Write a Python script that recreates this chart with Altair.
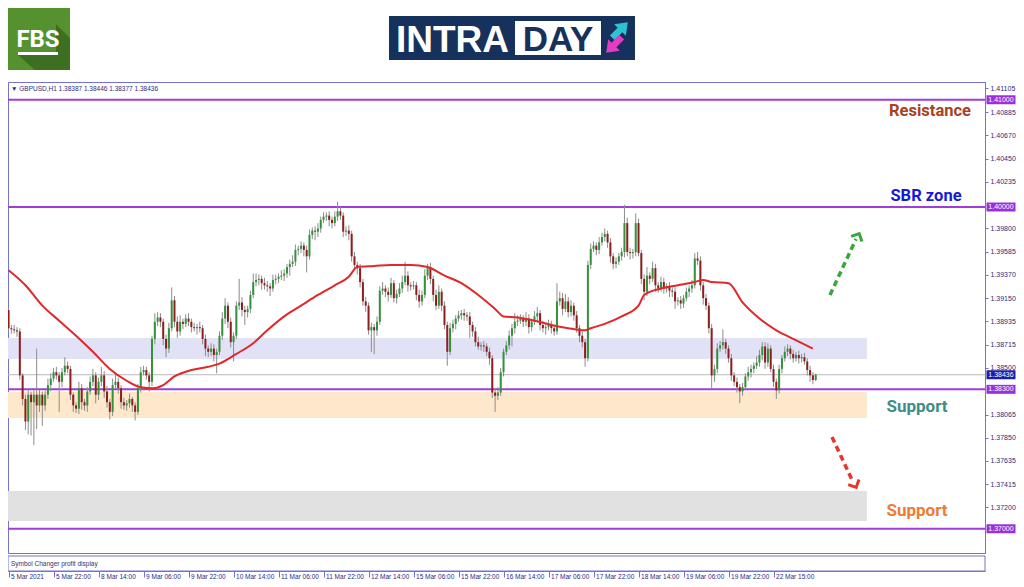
import altair as alt
import pandas as pd

# ---------------- data ----------------
first_open = 1.3904
closes = [
    1.3887, 1.3886, 1.3885, 1.3884, 1.3843, 1.3821, 1.3800, 1.3825, 1.3818, 1.3825, 1.3815, 1.3825, 1.3815, 1.3825, 1.3834, 1.3840,
    1.3846, 1.3843, 1.3837, 1.3846, 1.3852, 1.3849, 1.3825, 1.3815, 1.3812, 1.3831, 1.3818, 1.3815, 1.3828, 1.3837, 1.3843, 1.3825,
    1.3837, 1.3843, 1.3828, 1.3818, 1.3809, 1.3834, 1.3837, 1.3831, 1.3818, 1.3815, 1.3817, 1.3821, 1.3815, 1.3809, 1.3831, 1.3846,
    1.3848, 1.3843, 1.3837, 1.3877, 1.3893, 1.3897, 1.3893, 1.3877, 1.3868, 1.3887, 1.3913, 1.3893, 1.3884, 1.3893, 1.3891, 1.3896,
    1.3893, 1.3888, 1.3887, 1.3888, 1.3887, 1.3877, 1.3868, 1.3865, 1.3868, 1.3862, 1.3865, 1.3880, 1.3896, 1.3908, 1.3893, 1.3874,
    1.3880, 1.3908, 1.3911, 1.3904, 1.3902, 1.3905, 1.3918, 1.3930, 1.3932, 1.3933, 1.3929, 1.3927, 1.3926, 1.3924, 1.3932, 1.3933,
    1.3935, 1.3936, 1.3938, 1.3944, 1.3947, 1.3949, 1.3960, 1.3961, 1.3964, 1.3960, 1.3954, 1.3974, 1.3978, 1.3977, 1.3980, 1.3988,
    1.3991, 1.3992, 1.3988, 1.3985, 1.3991, 1.3996, 1.3992, 1.3977, 1.3978, 1.3975, 1.3954, 1.3946, 1.3943, 1.3930, 1.3912, 1.3908,
    1.3885, 1.3888, 1.3885, 1.3893, 1.3922, 1.3924, 1.3921, 1.3918, 1.3929, 1.3915, 1.3919, 1.3924, 1.3930, 1.3936, 1.3927, 1.3926,
    1.3927, 1.3918, 1.3912, 1.3918, 1.3936, 1.3944, 1.3933, 1.3918, 1.3908, 1.3921, 1.3908, 1.3890, 1.3865, 1.3887, 1.3891, 1.3896,
    1.3899, 1.3901, 1.3899, 1.3898, 1.3890, 1.3884, 1.3874, 1.3870, 1.3871, 1.3870, 1.3865, 1.3859, 1.3827, 1.3824, 1.3827, 1.3846,
    1.3865, 1.3871, 1.3880, 1.3887, 1.3893, 1.3894, 1.3896, 1.3893, 1.3896, 1.3888, 1.3893, 1.3898, 1.3901, 1.3890, 1.3887, 1.3888,
    1.3891, 1.3887, 1.3884, 1.3912, 1.3915, 1.3905, 1.3912, 1.3902, 1.3908, 1.3899, 1.3887, 1.3880, 1.3874, 1.3859, 1.3946, 1.3961,
    1.3964, 1.3960, 1.3967, 1.3972, 1.3975, 1.3967, 1.3954, 1.3947, 1.3949, 1.3954, 1.3958, 1.3985, 1.3958, 1.3957, 1.3958, 1.3985,
    1.3957, 1.3933, 1.3921, 1.3936, 1.3933, 1.3943, 1.3927, 1.3924, 1.3930, 1.3924, 1.3926, 1.3922, 1.3921, 1.3912, 1.3913, 1.3910,
    1.3915, 1.3921, 1.3924, 1.3927, 1.3952, 1.3950, 1.3927, 1.3915, 1.3908, 1.3887, 1.3843, 1.3849, 1.3868, 1.3871, 1.3874, 1.3868,
    1.3859, 1.3843, 1.3837, 1.3832, 1.3828, 1.3832, 1.3842, 1.3846, 1.3849, 1.3852, 1.3855, 1.3862, 1.3870, 1.3855, 1.3868, 1.3849,
    1.3837, 1.3829, 1.3849, 1.3859, 1.3865, 1.3868, 1.3863, 1.3859, 1.3862, 1.3859, 1.3860, 1.3856, 1.3848, 1.3843, 1.38387, 1.38436,
]
# wick lengths in pips above / below the candle body
wick_hi = [
    2, 3, 4, 3, 3, 2, 4, 5, 3, 4, 43, 5, 3, 4, 6, 5,
    4, 5, 3, 4, 8, 4, 3, 2, 3, 6, 4, 3, 4, 5, 6, 3,
    4, 8, 4, 5, 3, 6, 7, 4, 3, 4, 3, 5, 2, 3, 4, 5,
    4, 3, 3, 3, 8, 5, 4, 3, 4, 5, 12, 4, 5, 6, 3, 4,
    5, 3, 4, 3, 5, 3, 4, 3, 5, 4, 3, 4, 6, 7, 3, 4,
    3, 4, 22, 5, 4, 3, 4, 8, 6, 4, 3, 5, 4, 3, 5, 4,
    3, 5, 4, 3, 4, 6, 5, 3, 4, 3, 4, 5, 3, 4, 5, 3,
    4, 3, 4, 3, 5, 9, 4, 3, 4, 5, 3, 4, 3, 4, 3, 4,
    3, 4, 3, 5, 4, 6, 3, 4, 5, 3, 4, 5, 6, 13, 4, 3,
    4, 3, 5, 4, 6, 3, 4, 3, 5, 6, 3, 4, 3, 5, 4, 3,
    4, 3, 4, 3, 4, 3, 4, 5, 3, 4, 3, 4, 3, 4, 5, 4,
    3, 4, 5, 4, 8, 5, 4, 3, 6, 4, 3, 5, 6, 3, 4, 3,
    4, 3, 3, 17, 6, 5, 7, 4, 5, 3, 4, 3, 4, 3, 4, 5,
    4, 3, 5, 4, 5, 3, 4, 3, 4, 3, 4, 17, 5, 4, 3, 9,
    4, 3, 4, 8, 3, 6, 4, 3, 5, 4, 3, 4, 3, 4, 3, 4,
    3, 4, 3, 5, 5, 6, 4, 3, 4, 3, 4, 4, 5, 4, 12, 3,
    3, 4, 3, 4, 3, 4, 3, 5, 4, 3, 6, 5, 4, 4, 5, 3,
    4, 3, 4, 3, 5, 4, 3, 4, 3, 4, 3, 4, 3, 4, 3, 1,
]
wick_lo = [
    3, 4, 3, 5, 4, 6, 8, 12, 31, 40, 22, 6, 19, 5, 4, 6,
    3, 4, 28, 5, 3, 4, 5, 6, 4, 5, 7, 5, 6, 3, 4, 8,
    5, 4, 6, 5, 7, 4, 3, 5, 6, 4, 5, 4, 6, 8, 3, 4,
    3, 4, 9, 4, 5, 4, 5, 6, 8, 4, 3, 5, 6, 4, 5, 3,
    4, 5, 3, 6, 4, 5, 7, 5, 4, 6, 17, 3, 4, 5, 6, 5,
    18, 3, 4, 6, 12, 5, 4, 3, 4, 5, 6, 4, 5, 7, 3, 4,
    4, 3, 5, 4, 8, 3, 4, 5, 4, 6, 15, 3, 4, 8, 5, 4,
    3, 4, 6, 5, 3, 4, 4, 5, 4, 6, 5, 4, 6, 5, 4, 6,
    4, 20, 22, 5, 3, 4, 5, 6, 3, 4, 5, 3, 4, 3, 6, 4,
    3, 5, 6, 4, 3, 4, 5, 6, 4, 3, 5, 4, 13, 3, 4, 5,
    3, 4, 5, 4, 12, 5, 4, 3, 4, 5, 4, 6, 5, 15, 4, 3,
    4, 3, 4, 10, 5, 4, 3, 5, 4, 6, 4, 3, 4, 5, 4, 6,
    3, 5, 4, 3, 4, 6, 3, 5, 4, 5, 4, 6, 5, 8, 3, 4,
    3, 5, 4, 3, 4, 5, 6, 5, 4, 3, 4, 5, 4, 6, 5, 4,
    3, 5, 8, 4, 5, 3, 6, 4, 3, 5, 4, 6, 5, 7, 4, 5,
    4, 3, 5, 4, 3, 4, 5, 6, 4, 5, 12, 6, 4, 3, 4, 5,
    4, 5, 4, 5, 11, 4, 3, 4, 5, 4, 3, 4, 5, 6, 4, 3,
    5, 8, 3, 4, 3, 4, 5, 4, 3, 5, 4, 3, 5, 6, 4, 1,
]
# moving average (red line): bar index and value
ma_bars = [0, 6, 12, 18, 24, 30, 36, 42, 47, 51, 55, 59, 65, 71, 75, 81, 87, 92, 98, 104, 110, 116, 121, 124,
           130, 136, 143, 149, 155, 161, 167, 173, 176, 181, 187, 193, 199, 205, 207, 212, 218, 224, 226, 232,
           238, 244, 247, 250, 256, 261, 267, 273, 279, 286]
ma_vals = [1.3941, 1.3927, 1.3908, 1.3894, 1.3880, 1.3865, 1.3849, 1.3838, 1.3832, 1.3831, 1.3834, 1.3842,
           1.3848, 1.3851, 1.3854, 1.3863, 1.3873, 1.3885, 1.3898, 1.3908, 1.3918, 1.3927, 1.3935, 1.3944,
           1.3945, 1.3946, 1.3946, 1.3944, 1.3936, 1.3929, 1.3918, 1.3905, 1.3898, 1.3897, 1.3894, 1.3890,
           1.3887, 1.3885, 1.3887, 1.3891, 1.3898, 1.3908, 1.3918, 1.3924, 1.3927, 1.3930, 1.3932, 1.3930,
           1.3929, 1.3911, 1.3896, 1.3885, 1.3877, 1.3868]

level_prices = [1.41, 1.40, 1.383, 1.37]
level_labels = ["1.41000", "1.40000", "1.38300", "1.37000"]
last_price = 1.38436
last_label = "1.38436"
header_text = "\u25BC GBPUSD,H1  1.38387 1.38446 1.38377 1.38436"

zone_lo = [1.38583, 1.38033, 1.37072]
zone_hi = [1.38779, 1.38275, 1.37352]
zone_colors = ["#e2e2f7", "#fde8cc", "#e1e1e1"]
zone_start_bar = -0.2
zone_end_bar = 305.2

y_ticks = [1.41105, 1.40885, 1.40670, 1.40450, 1.40235, 1.39800, 1.39585, 1.39370, 1.39150,
           1.38935, 1.38715, 1.38500, 1.38065, 1.37850, 1.37635, 1.37415, 1.37200, 1.36765]
x_tick_bars = list(range(0, 273, 16))
x_tick_labels = ["5 Mar 2021", "5 Mar 22:00", "8 Mar 14:00", "9 Mar 06:00", "9 Mar 22:00",
                 "10 Mar 14:00", "11 Mar 06:00", "11 Mar 22:00", "12 Mar 14:00", "15 Mar 06:00",
                 "15 Mar 22:00", "16 Mar 14:00", "17 Mar 06:00", "17 Mar 22:00", "18 Mar 14:00",
                 "19 Mar 06:00", "19 Mar 22:00", "22 Mar 15:00"]

# ---------------- tables ----------------
opens = [first_open] + closes[:-1]
highs = [max(o, c) + h * 0.0001 for o, c, h in zip(opens, closes, wick_hi)]
lows = [min(o, c) - l * 0.0001 for o, c, l in zip(opens, closes, wick_lo)]
candles = pd.DataFrame({
    "i": list(range(len(closes))), "open": opens, "close": closes,
    "high": highs, "low": lows,
    "dir": ["up" if c >= o else "down" for o, c in zip(opens, closes)],
})
ma_df = pd.DataFrame({"bar": ma_bars, "val": ma_vals})
levels_df = pd.DataFrame({"price": level_prices, "label": level_labels})
last_df = pd.DataFrame({"price": [last_price], "label": [last_label]})
one = pd.DataFrame({"k": [0]})

W, H = 977, 471
FRAME = "#7272d2"
NAVY = "#2b2b80"
PURPLE = "#a03cd8"

XSC = alt.Scale(domain=[-0.2, 347.2], nice=False, zero=False)
YSC = alt.Scale(domain=[1.36774, 1.411655], nice=False, zero=False)
label_js = "[" + ",".join("'" + s + "'" for s in x_tick_labels) + "][round(datum.value/16)]"
x_axis = alt.Axis(values=x_tick_bars, labelExpr=label_js, orient="bottom", offset=18, tickSize=6,
                  labelAlign="left", labelBaseline="top", labelPadding=-4, labelOffset=2,
                  labelFontSize=6.5, labelFont="Liberation Sans", labelColor=NAVY,
                  tickColor=FRAME, domainColor=FRAME, grid=False, title=None,
                  labelOverlap=False, labelFlush=False)
y_axis = alt.Axis(values=y_ticks, format=".5f", orient="right", tickSize=3, labelPadding=2,
                  labelFontSize=7, labelFont="Liberation Sans", labelColor=NAVY,
                  tickColor=FRAME, domainColor=FRAME, grid=False, title=None,
                  labelOverlap=False, labelFlush=False)


def X(f):
    return alt.X(f, scale=XSC, axis=x_axis)


def Y(f):
    return alt.Y(f, scale=YSC, axis=y_axis)


layers = []

# zones
for lo, hi, col in zip(zone_lo, zone_hi, zone_colors):
    zdf = pd.DataFrame({"x0": [zone_start_bar], "x1": [zone_end_bar], "lo": [lo], "hi": [hi]})
    layers.append(alt.Chart(zdf).mark_rect(color=col).encode(x=X("x0:Q"), x2="x1:Q", y=Y("lo:Q"), y2="hi:Q"))

# current price line and key levels
layers.append(alt.Chart(last_df).mark_rule(color="#b9b9b9", strokeWidth=1).encode(y=Y("price:Q")))
layers.append(alt.Chart(levels_df).mark_rule(color=PURPLE, strokeWidth=2).encode(y=Y("price:Q")))

# candles
layers.append(alt.Chart(candles).mark_rule(color="#8c8c8c", strokeWidth=1).encode(
    x=X("i:Q"), y=Y("low:Q"), y2="high:Q"))
layers.append(alt.Chart(candles).mark_rule(strokeWidth=2, strokeCap="butt").encode(
    x=X("i:Q"), y=Y("open:Q"), y2="close:Q",
    color=alt.Color("dir:N", scale=alt.Scale(domain=["up", "down"], range=["#33913a", "#8e1d1d"]), legend=None)))

# moving average
layers.append(alt.Chart(ma_df).mark_line(color="#e0282a", strokeWidth=2, interpolate="monotone").encode(
    x=X("bar:Q"), y=Y("val:Q")))

# price tags on the right axis
TAG = "M -1 -0.31 L 1 -0.31 L 1 0.31 L -1 0.31 Z"
layers.append(alt.Chart(levels_df).mark_point(shape=TAG, filled=True, size=841, opacity=1, color="#9b2fdc").encode(
    x=alt.value(W + 16), y=Y("price:Q")))
layers.append(alt.Chart(last_df).mark_point(shape=TAG, filled=True, size=841, opacity=1, color="#1d1da8").encode(
    x=alt.value(W + 16), y=Y("price:Q")))
for d in (levels_df, last_df):
    layers.append(alt.Chart(d).mark_text(color="white", fontSize=7, font="Liberation Sans").encode(
        x=alt.value(W + 16), y=Y("price:Q"), text="label:N"))

# annotations
def label(txt, x, y, color, size):
    return alt.Chart(one).mark_text(text=txt, color=color, fontSize=size, fontWeight="bold",
                                    font="Roboto", align="center", baseline="middle").encode(
        x=alt.value(x), y=alt.value(y))

layers.append(label("Resistance", 922, 29, "#a8421d", 16.5))
layers.append(label("SBR zone", 918, 114, "#1818d6", 16.5))
layers.append(label("Support", 909, 325, "#3d8d89", 17))
layers.append(label("Support", 909, 429, "#ef7b32", 17))

# dashed arrows
layers.append(alt.Chart(one).mark_rule(color="#3aa73a", strokeWidth=3.5, strokeDash=[6, 4]).encode(
    x=alt.value(822), y=alt.value(213), x2=alt.value(848), y2=alt.value(157)))
layers.append(alt.Chart(one).mark_point(shape="M -1 0.55 L 0 -0.45 L 1 0.55", filled=False, size=144,
                                        strokeWidth=3, color="#3aa73a", opacity=1, angle=26).encode(
    x=alt.value(850), y=alt.value(154)))
layers.append(alt.Chart(one).mark_rule(color="#e8352b", strokeWidth=3.5, strokeDash=[6, 4]).encode(
    x=alt.value(824), y=alt.value(355), x2=alt.value(845), y2=alt.value(400)))
layers.append(alt.Chart(one).mark_point(shape="M -1 0.55 L 0 -0.45 L 1 0.55", filled=False, size=144,
                                        strokeWidth=3, color="#e8352b", opacity=1, angle=154).encode(
    x=alt.value(847), y=alt.value(403)))

# frame header text
layers.append(alt.Chart(one).mark_text(text=header_text, color=NAVY, fontSize=6.5, font="Liberation Sans",
                                       align="left", baseline="middle").encode(x=alt.value(3), y=alt.value(7)))

# bottom sub-window
layers.append(alt.Chart(one).mark_rect(fill="white", stroke=FRAME, strokeWidth=1).encode(
    x=alt.value(0), x2=alt.value(W), y=alt.value(474), y2=alt.value(489)))
layers.append(alt.Chart(one).mark_text(text="Symbol Changer profit display", color="#333366", fontSize=6.5,
                                       font="Liberation Sans", align="left", baseline="middle").encode(
    x=alt.value(3), y=alt.value(482)))

# FBS logo
layers.append(alt.Chart(one).mark_rect(color="#55922f").encode(
    x=alt.value(0), x2=alt.value(62), y=alt.value(-74), y2=alt.value(-12)))
layers.append(alt.Chart(one).mark_point(
    shape="M 0.46 -0.88 L 1 -0.35 L 1 0.88 L -0.35 0.88 L -1 0.31 L 0.46 0.31 Z",
    filled=True, size=2704, opacity=1, color="#3c6f20").encode(x=alt.value(36), y=alt.value(-35)))
layers.append(alt.Chart(one).mark_text(text="FBS", color="white", fontSize=24, fontWeight="bold",
                                       font="Roboto", align="center", baseline="alphabetic").encode(
    x=alt.value(30), y=alt.value(-35)))
layers.append(alt.Chart(one).mark_rect(color="white").encode(
    x=alt.value(10), x2=alt.value(50), y=alt.value(-30), y2=alt.value(-27)))

# INTRADAY banner
layers.append(alt.Chart(one).mark_rect(color="#16325c").encode(
    x=alt.value(381), x2=alt.value(627), y=alt.value(-66), y2=alt.value(-22)))
layers.append(alt.Chart(one).mark_text(text="INTRA", color="white", fontSize=37, fontWeight="bold",
                                       font="Liberation Sans", align="left", baseline="alphabetic").encode(
    x=alt.value(388), y=alt.value(-30)))
layers.append(alt.Chart(one).mark_rect(color="white").encode(
    x=alt.value(507), x2=alt.value(593), y=alt.value(-61), y2=alt.value(-27)))
layers.append(alt.Chart(one).mark_text(text="DAY", color="#16325c", fontSize=35, fontWeight="bold",
                                       font="Liberation Sans", align="center", baseline="alphabetic").encode(
    x=alt.value(550), y=alt.value(-31)))
ARROW = "M -0.3 1 L -0.3 0 L -0.75 0 L 0 -1 L 0.75 0 L 0.3 0 L 0.3 1 Z"
layers.append(alt.Chart(one).mark_point(shape=ARROW, filled=True, size=484, opacity=1, color="#2cc4d2",
                                        angle=45).encode(x=alt.value(612), y=alt.value(-52)))
layers.append(alt.Chart(one).mark_point(shape=ARROW, filled=True, size=484, opacity=1, color="#e23dc4",
                                        angle=225).encode(x=alt.value(606), y=alt.value(-37)))

chart = alt.layer(*layers).properties(
    width=W, height=H,
    padding={"left": 0, "top": 74, "right": 31, "bottom": 26},
    autosize=alt.AutoSizeParams(type="none"),
    background="white",
).configure_view(stroke=FRAME, strokeWidth=1)

chart.save("out.html", embed_options={"renderer": "svg", "actions": False})
